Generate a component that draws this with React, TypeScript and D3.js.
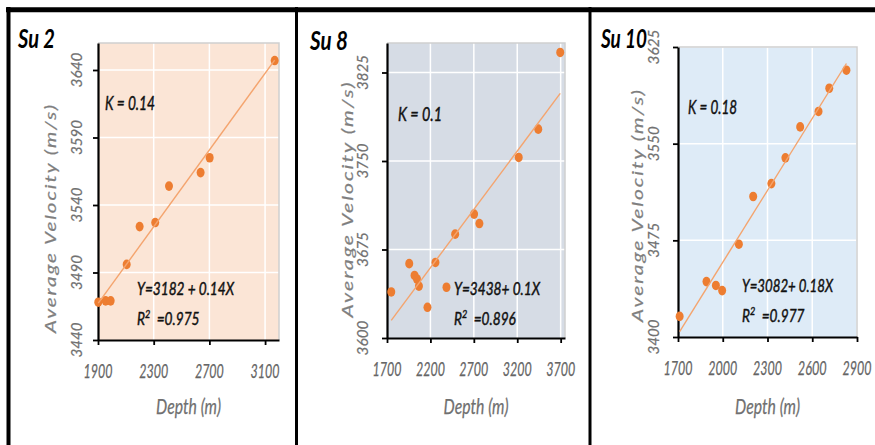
import React, { useRef, useEffect } from "react";
import * as d3 from "d3";

// Su 2 well
const su2Depth = [1902, 1955, 1991, 2106, 2199, 2311, 2410, 2637, 2702, 3169];
const su2Velocity = [3468, 3469, 3469, 3496, 3524, 3527, 3554, 3564, 3575, 3647];
const su2DepthTicks = [1900, 2300, 2700, 3100];
const su2VelocityTicks = [3440, 3490, 3540, 3590, 3640];

// Su 8 well
const su8Depth = [1749, 1956, 2017, 2045, 2068, 2166, 2258, 2385, 2485, 2703, 2764, 3217, 3442, 3695];
const su8Velocity = [3639, 3663, 3653, 3650, 3644, 3626, 3664, 3643, 3688, 3705, 3697, 3753, 3777, 3842];
const su8DepthTicks = [1700, 2200, 2700, 3200, 3700];
const su8VelocityTicks = [3600, 3675, 3750, 3825];

// Su 10 well
const su10Depth = [1711, 1891, 1954, 1996, 2108, 2204, 2326, 2420, 2519, 2642, 2714, 2829];
const su10Velocity = [3416, 3443, 3440, 3436, 3472, 3509, 3519, 3539, 3563, 3575, 3593, 3607];
const su10DepthTicks = [1700, 2000, 2300, 2600, 2900];
const su10VelocityTicks = [3400, 3475, 3550, 3625];

const wellNames = ["Su 2", "Su 8", "Su 10"];
const kLabels = ["K = 0.14", "K = 0.1", "K = 0.18"];
const equations = ["Y=3182 + 0.14X", "Y=3438+ 0.1X", "Y=3082+ 0.18X"];
const r2Values = ["0.975", "0.896", "0.977"];

const font = "Lato, 'Open Sans', sans-serif";

const panels = [
  {
    depth: su2Depth, velocity: su2Velocity, xTicks: su2DepthTicks, yTicks: su2VelocityTicks,
    xDomain: [1900, 3200], yDomain: [3440, 3660],
    left: 98, right: 279, top: 43, bottom: 340, bg: "#FBE5D6", yLabelGap: 16,
    titleX: 18, titleY: 48, titleW: 37, yTitleX: 56, yTitleY: 218, yTitleLen: 230,
    kX: 105, kY: 110, kW: 50, eqX: 137, eqY: 295, eqW: 97
  },
  {
    depth: su8Depth, velocity: su8Velocity, xTicks: su8DepthTicks, yTicks: su8VelocityTicks,
    xDomain: [1700, 3750], yDomain: [3600, 3850],
    left: 387, right: 565, top: 43, bottom: 338, bg: "#D6DCE5", yLabelGap: 19,
    titleX: 310, titleY: 50, titleW: 38, yTitleX: 353, yTitleY: 199, yTitleLen: 237,
    kX: 398, kY: 121, kW: 44, eqX: 454, eqY: 295, eqW: 86
  },
  {
    depth: su10Depth, velocity: su10Velocity, xTicks: su10DepthTicks, yTicks: su10VelocityTicks,
    xDomain: [1700, 2900], yDomain: [3400, 3625],
    left: 678, right: 857, top: 47, bottom: 337, bg: "#DEEBF7", yLabelGap: 19,
    titleX: 601, titleY: 48, titleW: 46, yTitleX: 643, yTitleY: 205, yTitleLen: 234,
    kX: 688, kY: 114, kW: 49, eqX: 742, eqY: 292, eqW: 91
  }
];

// least squares fit
const fit = (xs: number[], ys: number[]) => {
  const mx = d3.mean(xs) as number;
  const my = d3.mean(ys) as number;
  const sxy = d3.sum(xs, (v, i) => (v - mx) * (ys[i] - my));
  const sxx = d3.sum(xs, v => (v - mx) * (v - mx));
  const b = sxy / sxx;
  return { a: my - b * mx, b };
};

const App = () => {
  const chartRef = useRef<SVGSVGElement>(null);

  useEffect(() => {
    document.body.style.margin = "0";
    const svg = d3.select(chartRef.current);
    svg.selectAll("*").remove();

    panels.forEach((p, idx) => {
      const x = d3.scaleLinear().domain(p.xDomain).range([p.left, p.right]);
      const y = d3.scaleLinear().domain(p.yDomain).range([p.bottom, p.top]);
      const g = svg.append("g").attr("font-family", font);

      g.append("rect")
        .attr("x", p.left).attr("y", p.top)
        .attr("width", p.right - p.left).attr("height", p.bottom - p.top)
        .attr("fill", p.bg);

      // gridlines
      g.append("g").selectAll("line")
        .data(p.yTicks.filter(t => t > p.yDomain[0]))
        .join("line")
        .attr("x1", p.left).attr("x2", p.right)
        .attr("y1", d => y(d)).attr("y2", d => y(d))
        .attr("stroke", "#fff").attr("stroke-width", 1.5);
      g.append("g").selectAll("line")
        .data(p.xTicks.filter(t => t > p.xDomain[0]))
        .join("line")
        .attr("x1", d => x(d)).attr("x2", d => x(d))
        .attr("y1", p.top).attr("y2", p.bottom)
        .attr("stroke", "#fff").attr("stroke-width", 1.5);

      g.append("path")
        .attr("d", `M${p.left},${p.top}H${p.right}V${p.bottom}`)
        .attr("fill", "none").attr("stroke", "#d0d0d0").attr("stroke-width", 1.5);

      // axes
      g.append("g")
        .attr("transform", `translate(0,${p.bottom})`)
        .call(d3.axisBottom(x).tickValues(p.xTicks).tickSize(5).tickSizeOuter(0).tickFormat(() => ""))
        .call(a => a.select(".domain").attr("stroke", "#000").attr("stroke-width", 2.2))
        .call(a => a.selectAll(".tick line").attr("stroke", "#000").attr("stroke-width", 1.8));
      g.append("g")
        .attr("transform", `translate(${p.left},0)`)
        .call(d3.axisLeft(y).tickValues(p.yTicks).tickSize(5).tickSizeOuter(0).tickFormat(() => ""))
        .call(a => a.select(".domain").attr("stroke", "#000").attr("stroke-width", 2.2))
        .call(a => a.selectAll(".tick line").attr("stroke", "#000").attr("stroke-width", 1.8));

      // tick labels
      g.append("g").selectAll("text")
        .data(p.xTicks)
        .join("text")
        .attr("x", d => x(d)).attr("y", p.bottom + 38)
        .attr("text-anchor", "middle")
        .attr("font-style", "italic").attr("font-size", 19)
        .attr("textLength", 29).attr("lengthAdjust", "spacingAndGlyphs")
        .attr("fill", "#666").attr("stroke", "#666").attr("stroke-width", 0.25)
        .text(d => d);
      g.append("g").selectAll("text")
        .data(p.yTicks)
        .join("text")
        .attr("transform", d => `translate(${p.left - p.yLabelGap},${y(d)}) rotate(-90)`)
        .attr("text-anchor", "middle")
        .attr("font-style", "italic").attr("font-size", 15)
        .attr("textLength", 35).attr("lengthAdjust", "spacingAndGlyphs")
        .attr("fill", "#717171").attr("stroke", "#717171").attr("stroke-width", 0.2)
        .text(d => d);

      // axis titles
      g.append("text")
        .attr("x", (p.left + p.right) / 2).attr("y", 414)
        .attr("text-anchor", "middle")
        .attr("font-style", "italic").attr("font-size", 21)
        .attr("textLength", 65).attr("lengthAdjust", "spacingAndGlyphs")
        .attr("fill", "#707070").attr("stroke", "#707070").attr("stroke-width", 0.25)
        .text("Depth (m)");
      g.append("text")
        .attr("transform", `translate(${p.yTitleX},${p.yTitleY}) rotate(-90)`)
        .attr("text-anchor", "middle")
        .attr("textLength", p.yTitleLen).attr("lengthAdjust", "spacingAndGlyphs")
        .attr("font-style", "italic").attr("font-size", 16)
        .attr("letter-spacing", 1.5)
        .attr("fill", "#7f7f7f").attr("stroke", "#7f7f7f").attr("stroke-width", 0.2)
        .text("Average Velocity (m/s)");

      // points
      const pts = p.depth.map((d, i) => [d, p.velocity[i]]);
      g.append("g").selectAll("ellipse")
        .data(pts)
        .join("ellipse")
        .attr("cx", d => x(d[0])).attr("cy", d => y(d[1]))
        .attr("rx", 4).attr("ry", 4.8)
        .attr("fill", "#ED7D31");

      // trend line
      const { a, b } = fit(p.depth, p.velocity);
      const ends = d3.extent(p.depth) as [number, number];
      const line = d3.line<number>().x(d => x(d)).y(d => y(a + b * d));
      g.append("path")
        .datum(ends)
        .attr("d", line)
        .attr("fill", "none")
        .attr("stroke", "#F4A46E")
        .attr("stroke-width", 1.4);

      // annotations
      g.append("text")
        .attr("x", p.titleX).attr("y", p.titleY)
        .attr("font-style", "italic").attr("font-weight", "bold")
        .attr("font-size", 26).attr("fill", "#000")
        .attr("textLength", p.titleW).attr("lengthAdjust", "spacingAndGlyphs")
        .text(wellNames[idx]);
      g.append("text")
        .attr("x", p.kX).attr("y", p.kY)
        .attr("font-style", "italic").attr("font-size", 19)
        .attr("textLength", p.kW).attr("lengthAdjust", "spacingAndGlyphs")
        .attr("fill", "#111").attr("stroke", "#111").attr("stroke-width", 0.45)
        .text(kLabels[idx]);
      g.append("text")
        .attr("x", p.eqX).attr("y", p.eqY)
        .attr("font-style", "italic").attr("font-size", 18)
        .attr("textLength", p.eqW).attr("lengthAdjust", "spacingAndGlyphs")
        .attr("fill", "#111").attr("stroke", "#111").attr("stroke-width", 0.45)
        .text(equations[idx]);
      const r2 = g.append("text")
        .attr("transform", `translate(${p.eqX},${p.eqY + 30}) scale(0.76,1)`)
        .attr("font-style", "italic").attr("font-size", 18)
        .attr("fill", "#111").attr("stroke", "#111").attr("stroke-width", 0.45);
      r2.append("tspan").text("R");
      r2.append("tspan").attr("dy", -7).attr("font-size", 12).text("2");
      r2.append("tspan").attr("dy", 7).attr("xml:space", "preserve").text("  =" + r2Values[idx]);
    });

    // panel frames
    const frame = svg.append("g").attr("stroke", "#000").attr("fill", "none");
    frame.append("line").attr("x1", 6).attr("x2", 875).attr("y1", 9.8).attr("y2", 9.8).attr("stroke-width", 5);
    frame.append("line").attr("x1", 8.5).attr("x2", 8.5).attr("y1", 7).attr("y2", 445).attr("stroke-width", 4);
    frame.append("line").attr("x1", 296.5).attr("x2", 296.5).attr("y1", 7).attr("y2", 445).attr("stroke-width", 3);
    frame.append("line").attr("x1", 590).attr("x2", 590).attr("y1", 7).attr("y2", 445).attr("stroke-width", 3);
  }, []);

  return (
    <div style={{ position: "absolute", left: 0, top: 0 }}>
      <svg ref={chartRef} width={875} height={445} style={{ display: "block", background: "#fff" }} />
    </div>
  );
};

export default App;
